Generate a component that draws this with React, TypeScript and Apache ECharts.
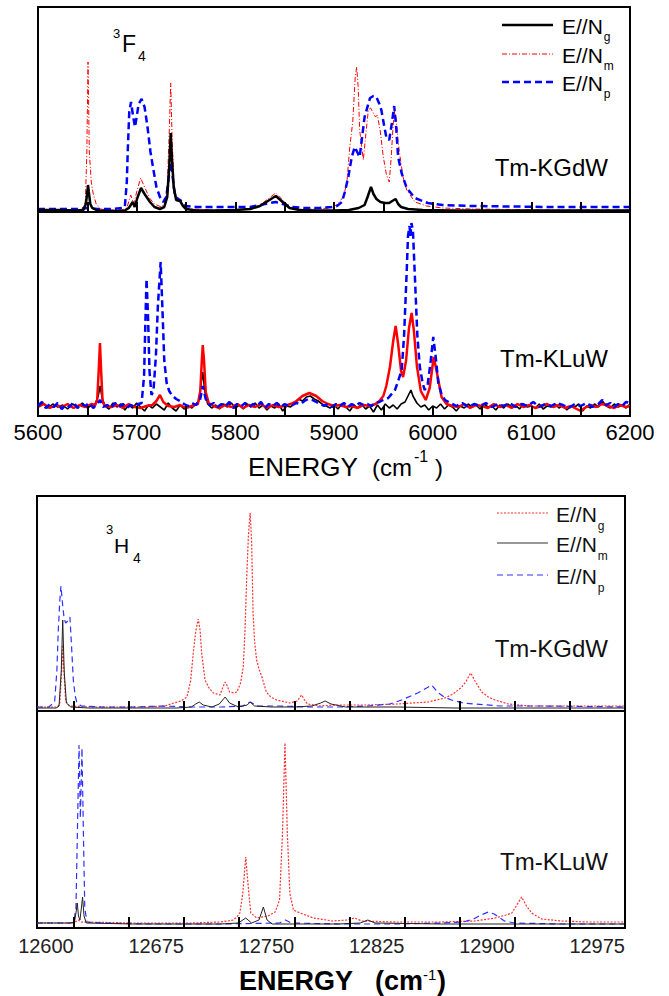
import React, { useEffect, useRef } from "react";
import * as echarts from "echarts";

const FONT = "'Liberation Sans', Arial, Helvetica, sans-serif";

// ---------- axes ----------
const topTicks = [5600, 5650, 5700, 5750, 5800, 5850, 5900, 5950, 6000, 6050, 6100, 6150, 6200];
const topLabels = [5600, 5700, 5800, 5900, 6000, 6100, 6200];
const botTicks = [12600, 12637.5, 12675, 12712.5, 12750, 12787.5, 12825, 12862.5, 12900, 12937.5, 12975];
const botLabels = [12600, 12675, 12750, 12825, 12900, 12975];

// ---------- 3F4, Tm-KGdW ----------
const kgdwF_Ng: number[][] = [
  [5600, 2], [5620, 2], [5640, 1.5], [5646, 2], [5648.5, 8], [5650, 20], [5650.7, 27], [5651.5, 20], [5653, 8], [5655, 4],
  [5660, 1.5], [5670, 1], [5680, 1], [5688, 1.5], [5692, 4], [5696, 10], [5698, 5], [5701, 15], [5704.4, 24], [5708, 18],
  [5713.5, 10], [5718, 5], [5723.6, 3], [5728, 5], [5731, 15], [5733, 45], [5734.5, 79], [5736, 50], [5737.5, 25], [5740, 12],
  [5744, 11], [5747, 6], [5750, 3], [5760, 1.5], [5780, 1.5], [5800, 2], [5815, 3], [5825, 6], [5833, 11], [5841, 16],
  [5848, 10], [5855, 4], [5865, 2], [5880, 1.5], [5900, 1.5], [5915, 2], [5925, 4], [5931, 7], [5934, 15], [5937.5, 25],
  [5940, 18], [5943, 13], [5947, 10], [5951.7, 9], [5956, 9], [5959, 11], [5962.5, 13], [5965, 8], [5968, 5], [5975, 3],
  [5990, 2], [6020, 1.5], [6060, 1.5], [6100, 1.5], [6150, 1.5], [6200, 1.5],
];
const kgdwF_Nm: number[][] = [
  [5600, 2], [5620, 2], [5640, 2], [5645, 3], [5648, 10], [5649.5, 60], [5650.7, 150], [5652, 60], [5654, 30], [5656, 18],
  [5659, 8], [5663, 3], [5670, 2], [5685, 2], [5690, 4], [5694, 17], [5697, 8], [5700, 20], [5704, 34], [5708, 25],
  [5713, 14], [5718, 8], [5725, 5], [5728, 8], [5731, 25], [5733, 80], [5734.5, 129], [5736, 70], [5738, 25], [5741, 12],
  [5744, 12], [5748, 5], [5755, 3], [5780, 2], [5800, 2], [5815, 3], [5825, 7], [5833, 13], [5841, 19], [5848, 12],
  [5855, 5], [5865, 3], [5880, 3], [5895, 4], [5902.7, 7], [5909.5, 15], [5913, 29], [5916, 65], [5919, 90], [5921.5, 135],
  [5923, 145], [5924.5, 125], [5926, 82], [5929.7, 52], [5932, 75], [5934.8, 102], [5937, 104], [5940, 99], [5942, 95], [5944, 97],
  [5947, 80], [5950, 55], [5953, 38], [5956, 30], [5958, 55], [5960, 88], [5961.5, 101], [5963, 93], [5965, 70], [5967, 55],
  [5970, 35], [5973.7, 22], [5982, 10], [5994, 6], [6010, 4], [6040, 3], [6080, 2.5], [6120, 2], [6160, 2], [6200, 2],
];
const kgdwF_Np: number[][] = [
  [5600, 3], [5620, 3], [5640, 3], [5650, 4], [5660, 3], [5675, 3], [5685, 4], [5688, 5], [5690, 30], [5691, 62],
  [5692.5, 100], [5694.3, 110], [5696.5, 95], [5698.3, 85], [5700, 95], [5702, 108], [5705, 113], [5708, 105], [5711, 85], [5714, 60],
  [5716.5, 45], [5720, 25], [5723.6, 15], [5727, 10], [5730, 15], [5732, 30], [5734.5, 55], [5736.5, 35], [5739, 15], [5744, 12],
  [5750, 6], [5760, 5], [5780, 5], [5800, 5], [5815, 5], [5825, 7], [5835, 9], [5841, 10], [5848, 8], [5858, 5],
  [5870, 4], [5885, 4], [5898, 5], [5903, 6], [5908, 10], [5911, 20], [5914.5, 35], [5918, 55], [5921, 65], [5923.5, 60],
  [5926, 55], [5928.5, 75], [5931, 95], [5936.5, 114], [5940, 116], [5943, 115], [5946, 108], [5948, 102], [5950.5, 88], [5953, 75],
  [5956, 72], [5958.5, 88], [5961, 106], [5963, 85], [5965, 55], [5968.5, 39], [5973.7, 24], [5982, 14], [5995, 9], [6010, 7],
  [6040, 6], [6080, 5.5], [6120, 5], [6160, 5], [6200, 5],
];

// ---------- 3F4, Tm-KLuW ----------
const kluwF_Ng: number[][] = [
  [5600, 10], [5605, 13], [5610, 8], [5615, 12], [5620, 9], [5625, 11], [5630, 7], [5635, 12], [5640, 9], [5645, 13],
  [5650, 8], [5655, 11], [5658, 12], [5661, 20], [5663, 30], [5665, 18], [5668, 10], [5672, 7], [5676, 13], [5680, 9],
  [5684, 12], [5688, 6], [5692, 11], [5696, 8], [5700, 13], [5704, 9], [5708, 5], [5712, 11], [5716, 8], [5720, 12],
  [5724, 9], [5728, 6], [5732, 13], [5736, 8], [5740, 5], [5744, 11], [5748, 7], [5752, 10], [5756, 8], [5760, 12],
  [5763, 15], [5765, 30], [5767, 44], [5769, 25], [5772, 12], [5776, 8], [5780, 11], [5784, 7], [5788, 12], [5792, 9],
  [5796, 13], [5800, 8], [5804, 11], [5808, 7], [5812, 12], [5816, 9], [5820, 13], [5824, 8], [5828, 11], [5832, 6],
  [5836, 10], [5840, 8], [5844, 12], [5848, 5], [5852, 10], [5856, 9], [5860, 13], [5864, 17], [5868, 15], [5872, 19],
  [5876, 20], [5880, 17], [5884, 15], [5888, 12], [5892, 10], [5896, 8], [5900, 11], [5904, 7], [5908, 12], [5912, 9],
  [5916, 5], [5920, 11], [5924, 8], [5928, 12], [5932, 7], [5936, 10], [5940, 4], [5944, 11], [5948, 6], [5952, 12],
  [5956, 8], [5960, 11], [5964, 7], [5968, 12], [5972, 14], [5976, 22], [5978, 26], [5980, 20], [5984, 13], [5988, 9],
  [5992, 11], [5996, 6], [6000, 10], [6004, 8], [6008, 12], [6012, 7], [6016, 11], [6020, 9], [6024, 5], [6028, 10],
  [6032, 8], [6036, 12], [6040, 9], [6044, 11], [6048, 7], [6052, 12], [6056, 9], [6060, 10], [6064, 6], [6068, 11],
  [6072, 8], [6076, 12], [6080, 9], [6084, 11], [6088, 7], [6092, 12], [6096, 9], [6100, 10], [6104, 8], [6108, 12],
  [6112, 7], [6116, 10], [6120, 9], [6124, 12], [6128, 8], [6132, 11], [6136, 6], [6140, 10], [6144, 9], [6148, 12],
  [6152, 5], [6156, 10], [6160, 8], [6164, 12], [6168, 9], [6172, 15], [6176, 10], [6180, 8], [6184, 12], [6188, 9],
  [6192, 11], [6196, 8], [6200, 12],
];
const kluwF_Nm: number[][] = [
  [5600, 9], [5606, 12], [5612, 8], [5618, 11], [5624, 9], [5630, 12], [5636, 8], [5642, 11], [5648, 9], [5654, 12],
  [5658, 11], [5660, 16], [5661.5, 45], [5662.8, 73], [5664, 45], [5665.5, 14], [5668, 10], [5674, 9], [5680, 11], [5686, 8],
  [5692, 12], [5698, 9], [5704, 8], [5710, 10], [5716, 11], [5720, 15], [5723.6, 21], [5727, 14], [5732, 10], [5738, 9],
  [5744, 11], [5750, 8], [5756, 10], [5762, 12], [5764.5, 25], [5766, 55], [5767, 71], [5768.3, 55], [5770, 24], [5773, 13],
  [5778, 10], [5784, 8], [5790, 11], [5796, 9], [5802, 12], [5808, 8], [5814, 11], [5820, 9], [5826, 12], [5832, 8],
  [5838, 11], [5844, 9], [5850, 10], [5856, 12], [5862, 15], [5868, 20], [5875, 23], [5882, 20], [5888, 15], [5894, 12],
  [5900, 10], [5906, 11], [5912, 9], [5918, 10], [5924, 8], [5930, 11], [5936, 10], [5942, 12], [5946, 15], [5950, 20],
  [5953, 30], [5956.7, 49], [5960, 75], [5962.5, 90], [5965, 72], [5968, 45], [5970, 39], [5973, 55], [5976, 88], [5978.7, 103],
  [5981, 85], [5984, 50], [5988, 25], [5993, 16], [5997, 28], [6001, 59], [6004, 45], [6009, 19], [6014, 12], [6020, 10],
  [6026, 9], [6032, 12], [6038, 8], [6044, 11], [6050, 10], [6056, 8], [6062, 12], [6068, 9], [6074, 11], [6080, 8],
  [6086, 12], [6092, 9], [6098, 11], [6104, 8], [6110, 10], [6116, 12], [6122, 9], [6128, 11], [6134, 8], [6140, 10],
  [6146, 7], [6150, 5], [6154, 8], [6160, 11], [6166, 9], [6172, 12], [6178, 10], [6184, 8], [6190, 11], [6196, 9],
  [6200, 10],
];
const kluwF_Np: number[][] = [
  [5600, 10], [5604, 14], [5608, 8], [5612, 12], [5616, 9], [5620, 13], [5624, 7], [5628, 11], [5632, 9], [5636, 14],
  [5640, 8], [5644, 12], [5648, 10], [5652, 13], [5656, 8], [5660, 12], [5663, 16], [5666, 9], [5670, 11], [5674, 8],
  [5678, 13], [5682, 9], [5686, 12], [5690, 8], [5694, 11], [5698, 9], [5702, 12], [5705, 13], [5707.5, 40], [5709, 100],
  [5710, 137], [5711.5, 100], [5713, 45], [5715, 21], [5717, 25], [5719.5, 60], [5721.5, 110], [5724.3, 154], [5726, 110], [5728, 55],
  [5730.4, 33], [5733, 25], [5735.5, 21], [5740, 17], [5744, 15], [5748, 12], [5752, 10], [5756, 13], [5760, 11], [5764, 15],
  [5767, 30], [5770, 17], [5774, 11], [5778, 13], [5782, 9], [5786, 12], [5790, 10], [5794, 14], [5798, 8], [5802, 12],
  [5806, 10], [5810, 13], [5814, 9], [5818, 12], [5822, 10], [5826, 14], [5830, 8], [5834, 12], [5838, 10], [5842, 13],
  [5846, 9], [5850, 12], [5854, 10], [5858, 11], [5862, 13], [5866, 12], [5870, 15], [5874, 17], [5878, 16], [5882, 14],
  [5886, 12], [5890, 10], [5894, 12], [5898, 9], [5902, 12], [5906, 10], [5910, 13], [5914, 9], [5918, 12], [5922, 10],
  [5926, 13], [5930, 11], [5934, 12], [5938, 10], [5942, 13], [5946, 14], [5950, 16], [5955, 18], [5961.8, 26], [5965, 35],
  [5968.6, 46], [5971, 80], [5973.5, 140], [5975, 180], [5976.5, 190], [5977.5, 180], [5978.5, 193], [5980, 185], [5982, 139], [5984.5, 80],
  [5987, 49], [5990, 32], [5992, 26], [5995, 32], [5998, 55], [6000.6, 79], [6003, 60], [6005.7, 33], [6009, 22], [6012.5, 16],
  [6018, 13], [6024, 10], [6030, 13], [6036, 9], [6042, 12], [6048, 10], [6054, 13], [6060, 9], [6066, 12], [6072, 10],
  [6078, 13], [6084, 9], [6090, 12], [6096, 10], [6102, 14], [6108, 9], [6114, 12], [6120, 10], [6126, 13], [6132, 11],
  [6138, 8], [6144, 12], [6150, 10], [6156, 13], [6162, 9], [6168, 12], [6172, 16], [6176, 11], [6180, 13], [6184, 9],
  [6188, 12], [6192, 10], [6196, 14], [6200, 13],
];

// ---------- 3H4, Tm-KGdW ----------
const kgdwH_Ng: number[][] = [
  [12575, 4], [12585, 4], [12589, 4], [12590.5, 8], [12591.8, 40], [12592.5, 66], [12593.3, 40], [12594.5, 10], [12597, 5], [12610, 4],
  [12630, 4], [12650, 4], [12662, 5], [12668, 8], [12673, 10], [12677, 14], [12679.5, 30], [12681.3, 58], [12683, 80], [12684.7, 92],
  [12686, 80], [12687, 58], [12689.3, 31], [12692, 23], [12695, 18], [12699.5, 16], [12701.5, 24], [12703, 29], [12704.5, 25], [12706, 19],
  [12709, 18], [12711, 19], [12713.5, 28], [12715.3, 44], [12716.5, 80], [12717.6, 131], [12718.8, 175], [12720, 198], [12721, 170], [12722, 98],
  [12723, 70], [12724.4, 51], [12726, 42], [12728, 34], [12731, 19], [12734, 14], [12738, 11], [12747, 8], [12752, 10], [12755, 16],
  [12757, 11], [12759, 7], [12767.5, 5], [12778, 6], [12800, 6], [12820, 7], [12841, 9], [12852.5, 13], [12858, 17], [12864, 24],
  [12867, 30], [12870, 38], [12873, 30], [12877.5, 19], [12882, 14], [12886.6, 11], [12895.6, 7], [12910, 5], [12940, 5], [12975, 5],
];
const kgdwH_Nm: number[][] = [
  [12575, 3], [12588, 3], [12590, 5], [12591.5, 40], [12592.5, 91], [12593.5, 40], [12595, 8], [12598, 4], [12610, 3], [12640, 3],
  [12670, 3], [12680, 4], [12683, 7], [12685.4, 9], [12688, 6], [12694, 4], [12699, 7], [12703, 14], [12706, 8], [12712, 4],
  [12718, 6], [12720, 9], [12723, 5], [12735, 4], [12750, 4], [12762, 5], [12768, 8], [12771, 10], [12775, 7], [12785, 4],
  [12820, 4], [12860, 3], [12900, 3], [12940, 3], [12975, 3],
];
const kgdwH_Np: number[][] = [
  [12575, 4], [12583, 4], [12587, 9], [12588.5, 40], [12589.5, 81], [12590.5, 110], [12591.3, 125], [12592.5, 105], [12593.5, 92], [12594.5, 88],
  [12596, 90], [12597.4, 94], [12598.5, 65], [12599.7, 31], [12601, 15], [12602, 9], [12605, 5], [12620, 4], [12640, 4], [12660, 5],
  [12680, 4], [12700, 4], [12715, 5], [12720, 9], [12725, 5], [12740, 5], [12760, 4], [12780, 4], [12800, 5], [12815, 7],
  [12823, 11], [12834, 18], [12840, 23], [12843.5, 26], [12848, 18], [12852, 14], [12857, 11], [12865, 8], [12873, 7], [12890, 5],
  [12920, 5], [12975, 4],
];

// ---------- 3H4, Tm-KLuW ----------
const kluwH_Ng: number[][] = [
  [12575, 5], [12600, 5], [12603, 8], [12605, 6], [12640, 5], [12680, 5], [12699.5, 6], [12705, 7], [12708.5, 8], [12711, 11],
  [12713, 15], [12715, 35], [12717, 71], [12718.8, 40], [12720.4, 15], [12724.5, 10], [12732, 12], [12737, 16], [12740, 28], [12742, 95],
  [12743.7, 185], [12745.3, 95], [12747, 35], [12749.4, 18], [12754, 15], [12763, 10], [12776, 7], [12786, 8], [12791, 10], [12796, 7],
  [12820, 6], [12850, 6], [12873, 7], [12886.6, 10], [12894, 13], [12898, 15], [12901, 22], [12904.7, 31], [12908, 22], [12911.5, 15],
  [12918.3, 9], [12932, 7], [12950, 6], [12975, 6],
];
const kluwH_Nm: number[][] = [
  [12575, 5], [12598, 5], [12600.5, 6], [12601.8, 18], [12602.4, 25], [12603.2, 12], [12604.2, 8], [12605.2, 20], [12606, 31], [12607, 12],
  [12608.5, 5], [12640, 4], [12700, 4], [12712, 5], [12717, 10], [12721, 5], [12726, 8], [12729, 21], [12731.5, 8], [12735, 4],
  [12780, 4], [12795, 5], [12800, 8], [12805, 5], [12850, 4], [12900, 4], [12975, 4],
];
const kluwH_Np: number[][] = [
  [12575, 5], [12590, 5], [12598, 5], [12600, 6], [12601.5, 20], [12602.8, 120], [12603.6, 183], [12604.5, 110], [12605.6, 180], [12606.5, 100],
  [12607.5, 20], [12609, 6], [12620, 5], [12650, 4], [12680, 4], [12700, 4], [12740, 5], [12744, 8], [12748, 5], [12780, 4],
  [12820, 4], [12850, 5], [12865, 6], [12872, 9], [12877, 13], [12882, 16], [12886, 14], [12889, 11], [12893, 7], [12900, 5],
  [12930, 4], [12975, 4],
];

const legendLabels = ["E//N", "E//N", "E//N"];
const topSubs = ["g", "m", "p"];
const botSubs = ["g", "m", "p"];

let measureCtx: CanvasRenderingContext2D | null = null;
function tw(text: string, size: number, weight = "normal"): number {
  if (!measureCtx) measureCtx = document.createElement("canvas").getContext("2d");
  if (!measureCtx) return text.length * size * 0.55;
  measureCtx.font = `${weight} ${size}px "Liberation Sans", Arial, sans-serif`;
  return measureCtx.measureText(text).width;
}

function txt(text: string, x: number, y: number, size: number, opts: any = {}) {
  const align = opts.align || "left";
  return {
    type: "text",
    x,
    y,
    z: 100,
    silent: true,
    style: {
      text,
      fontSize: size,
      fontFamily: FONT,
      fontWeight: opts.weight || "normal",
      fill: opts.fill || "#000",
      align,
      verticalAlign: "middle",
      textAlign: align,
      textVerticalAlign: "middle",
    },
  };
}

function seg(x1: number, y1: number, x2: number, y2: number, stroke: string, lineWidth: number, dash: number[] | null) {
  return {
    type: "line",
    z: 100,
    silent: true,
    shape: { x1, y1, x2, y2 },
    style: { stroke, lineWidth, lineDash: dash || undefined },
  };
}

function xAx(gridIndex: number, min: number, max: number, ticks: number[], labels: number[], showLabels: boolean, fontSize: number, margin: number, tickLen: number, align?: string, color = "#000") {
  const label: any = {
    show: showLabels,
    customValues: labels,
    fontSize,
    fontFamily: FONT,
    color,
    margin,
    formatter: (v: number) => String(v),
  };
  if (align) label.align = align;
  return {
    type: "value",
    gridIndex,
    min,
    max,
    z: 10,
    axisLine: { show: true, lineStyle: { color: "#000", width: 2 } },
    axisTick: { show: true, inside: true, length: tickLen, customValues: ticks, lineStyle: { color: "#000", width: 2 } },
    axisLabel: label,
    splitLine: { show: false },
  };
}

function yAx(gridIndex: number, max: number) {
  return { type: "value", gridIndex, min: 0, max, show: false };
}

function line(name: string, data: number[][], idx: number, color: string, width: number, dash: any, z: number) {
  return {
    name,
    type: "line",
    xAxisIndex: idx,
    yAxisIndex: idx,
    data,
    showSymbol: false,
    symbol: "none",
    smooth: false,
    z,
    lineStyle: { color, width, type: dash },
    itemStyle: { color },
  };
}

export default function App() {
  const ref = useRef<HTMLDivElement>(null);
  useEffect(() => {
    if (!ref.current) return;
    const chart = echarts.init(ref.current, undefined, { renderer: "svg" });

    const graphics: any[] = [];
    // Top legend
    const topRows = [25, 54, 82];
    const topStyles = [
      { c: "#000", w: 2.5, d: null },
      { c: "#ff0000", w: 1, d: [5, 2, 1, 2] },
      { c: "#0000ff", w: 2.5, d: [7, 4] },
    ];
    topRows.forEach((y, i) => {
      graphics.push(seg(502, y, 553, y, topStyles[i].c, topStyles[i].w, topStyles[i].d));
      graphics.push(txt(legendLabels[i], 562, y + 1, 21));
      graphics.push(txt(topSubs[i], 562 + tw(legendLabels[i], 21) + 1, y + 12, 12));
    });
    // Bottom legend
    const botRows = [513, 543, 575];
    const botStyles = [
      { c: "#ff3030", w: 1.2, d: [2, 1.5] },
      { c: "#333", w: 1, d: null },
      { c: "#3030ff", w: 1.2, d: [6, 4] },
    ];
    botRows.forEach((y, i) => {
      graphics.push(seg(497, y, 548, y, botStyles[i].c, botStyles[i].w, botStyles[i].d));
      graphics.push(txt(legendLabels[i], 556, y + 1, 21, { fill: "#111" }));
      graphics.push(txt(botSubs[i], 556 + tw(legendLabels[i], 21) + 1, y + 13, 12, { fill: "#111" }));
    });
    // Sample labels
    graphics.push(txt("Tm-KGdW", 608, 167, 24, { align: "right" }));
    graphics.push(txt("Tm-KLuW", 608, 358, 24, { align: "right" }));
    graphics.push(txt("Tm-KGdW", 608, 648, 24, { align: "right", fill: "#111" }));
    graphics.push(txt("Tm-KLuW", 608, 861, 24, { align: "right", fill: "#111" }));
    // 3F4
    graphics.push(txt("3", 113, 33.5, 13));
    graphics.push(txt("F", 122, 43.5, 23));
    graphics.push(txt("4", 138, 56, 14));
    // 3H4
    graphics.push(txt("3", 106, 529, 13));
    graphics.push(txt("H", 114, 545.5, 21));
    graphics.push(txt("4", 133, 557.5, 14));
    // top x title: ENERGY (cm-1)
    graphics.push(txt("ENERGY", 248, 467, 26));
    graphics.push(txt("(cm", 372, 467, 24));
    graphics.push(txt("-1", 414, 456, 16));
    graphics.push(txt(")", 435, 467, 24));
    // bottom x title
    graphics.push(txt("ENERGY", 239, 981, 27, { weight: "bold" }));
    graphics.push(txt("(cm", 375, 981, 27, { weight: "bold" }));
    graphics.push(txt("-1", 423, 974.5, 15));
    graphics.push(txt(")", 437, 981, 27, { weight: "bold" }));

    const gridBase = { show: true, borderColor: "#000", borderWidth: 2, backgroundColor: "transparent", containLabel: false };

    chart.setOption({
      animation: false,
      backgroundColor: "#fff",
      grid: [
        { ...gridBase, left: 38, top: 7, width: 592, height: 205 },
        { ...gridBase, left: 38, top: 212, width: 592, height: 204 },
        { ...gridBase, left: 37, top: 496, width: 588, height: 215 },
        { ...gridBase, left: 37, top: 711, width: 588, height: 217 },
      ],
      xAxis: [
        xAx(0, 5600, 6200, topTicks, topLabels, false, 22, 5, 10),
        xAx(1, 5600, 6200, topTicks, topLabels, true, 22, 5, 10),
        xAx(2, 12575, 12975, botTicks, botLabels, false, 20, 8, 10, "right", "#222"),
        xAx(3, 12575, 12975, botTicks, botLabels, true, 20, 8, 11, "right", "#222"),
      ],
      yAxis: [yAx(0, 205), yAx(1, 204), yAx(2, 215), yAx(3, 217)],
      series: [
        line("KGdW 3F4 E//Nm", kgdwF_Nm, 0, "#ff0000", 1, [5, 2, 1, 2], 2),
        line("KGdW 3F4 E//Np", kgdwF_Np, 0, "#0000ff", 2.5, [7, 4], 3),
        line("KGdW 3F4 E//Ng", kgdwF_Ng, 0, "#000", 2.5, "solid", 4),
        line("KLuW 3F4 E//Ng", kluwF_Ng, 1, "#000", 1.6, "solid", 2),
        line("KLuW 3F4 E//Nm", kluwF_Nm, 1, "#ff0000", 2.5, "solid", 3),
        line("KLuW 3F4 E//Np", kluwF_Np, 1, "#0000ff", 2.5, [7, 4], 4),
        line("KGdW 3H4 E//Ng", kgdwH_Ng, 2, "#ff3030", 1.2, [2, 1.5], 2),
        line("KGdW 3H4 E//Np", kgdwH_Np, 2, "#3030ff", 1.2, [6, 4], 3),
        line("KGdW 3H4 E//Nm", kgdwH_Nm, 2, "#222", 1, "solid", 4),
        line("KLuW 3H4 E//Ng", kluwH_Ng, 3, "#ff3030", 1.2, [2, 1.5], 2),
        line("KLuW 3H4 E//Np", kluwH_Np, 3, "#3030ff", 1.2, [6, 4], 3),
        line("KLuW 3H4 E//Nm", kluwH_Nm, 3, "#222", 1, "solid", 4),
      ],
      graphic: graphics,
    });

    return () => chart.dispose();
  }, []);
  return (
    <div
      ref={ref}
      style={{ position: "fixed", left: 0, top: 0, width: 669, height: 996, background: "#fff" }}
    />
  );
}
